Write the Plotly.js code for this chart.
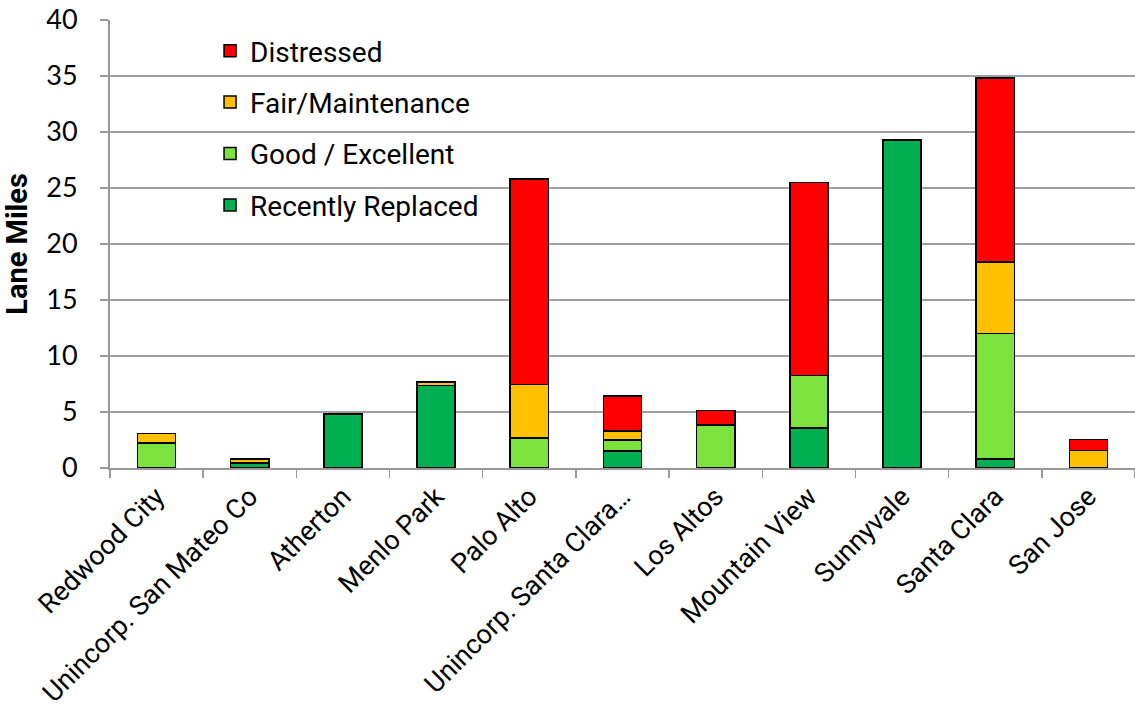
<!DOCTYPE html>
<html>
<head>
<meta charset="utf-8">
<script src="https://cdn.plot.ly/plotly-3.0.1.min.js"></script>
<style>
  html, body { margin: 0; padding: 0; background: #ffffff; }
  #chart { width: 1135px; height: 710px; }
</style>
</head>
<body>
<div id="chart"></div>
<script>
// Lane miles by pavement condition for each city / area
const cities = [
  "Redwood City", "Unincorp. San Mateo Co", "Atherton", "Menlo Park", "Palo Alto",
  "Unincorp. Santa Clara\u2026", "Los Altos", "Mountain View", "Sunnyvale", "Santa Clara", "San Jose"
];
const recentlyReplaced = [0,    0.4,  4.8, 7.35, 0,    1.5,  0,    3.55, 29.3, 0.8,  0];
const goodExcellent    = [2.25, 0.05, 0,   0,    2.7,  1.0,  3.85, 4.7,  0,    11.2, 0];
const fairMaintenance  = [0.85, 0.35, 0,   0.35, 4.75, 0.8,  0,    0,    0,    6.4,  1.55];
const distressed       = [0,    0,    0,   0,    18.35, 3.15, 1.3, 17.25, 0,   16.4, 1.0];

// stacked bottom to top; legend lists the top segment first
const seriesNames  = ["Recently Replaced", "Good / Excellent", "Fair/Maintenance", "Distressed"];
const seriesValues = [recentlyReplaced, goodExcellent, fairMaintenance, distressed];
const seriesColors = ["#00B050", "#7BE23E", "#FFC000", "#FF0000"];

const traces = seriesNames.map((name, i) => ({
  type: "bar",
  name: name,
  x: cities,
  y: seriesValues[i],
  legendgroup: "g" + i,
  legendrank: seriesNames.length - i,
  marker: { color: seriesColors[i], line: { color: "#000000", width: 1.5 } },
  hoverinfo: "x+y+name"
}));

const labelFont = "Roboto, Liberation Sans, Arial, sans-serif";

const layout = {
  width: 1135,
  height: 710,
  margin: { l: 110, r: 0, t: 20, b: 242 },
  paper_bgcolor: "#ffffff",
  plot_bgcolor: "#ffffff",
  barmode: "stack",
  bargap: 0.59,
  showlegend: true,
  legend: {
    x: 0.0976, y: 0.9866, xanchor: "left", yanchor: "top",
    bgcolor: "rgba(255,255,255,0)",
    traceorder: "grouped",
    tracegroupgap: 12,
    font: { family: labelFont, size: 28, color: "#000000" }
  },
  // white panel behind the legend, above the gridlines
  shapes: [{
    type: "rect", xref: "paper", yref: "paper", layer: "below",
    x0: 0.076, x1: 0.385, y0: 0.531, y1: 0.995,
    fillcolor: "#ffffff", line: { width: 0 }
  }],
  xaxis: {
    type: "category",
    tickangle: -45,
    tickson: "boundaries",
    ticks: "outside",
    ticklen: 8,
    tickcolor: "#999999",
    tickwidth: 1.5,
    showline: true,
    linecolor: "#999999",
    linewidth: 2,
    showgrid: false,
    tickfont: { family: labelFont, size: 27, color: "#000000" }
  },
  yaxis: {
    range: [0, 40],
    dtick: 5,
    ticks: "outside",
    ticklen: 8,
    tickcolor: "#999999",
    tickwidth: 1.5,
    ticklabelstandoff: 17,
    showline: true,
    linecolor: "#999999",
    linewidth: 2,
    showgrid: true,
    gridcolor: "#A0A0A0",
    gridwidth: 2,
    zeroline: false,
    tickfont: { family: "Lato, Open Sans, sans-serif", size: 27, color: "#000000" },
    title: {
      text: "<b>Lane Miles</b>",
      standoff: 10,
      font: { family: labelFont, size: 29, color: "#000000" }
    }
  }
};

Plotly.newPlot("chart", traces, layout, { displayModeBar: false, staticPlot: true });
</script>
</body>
</html>
